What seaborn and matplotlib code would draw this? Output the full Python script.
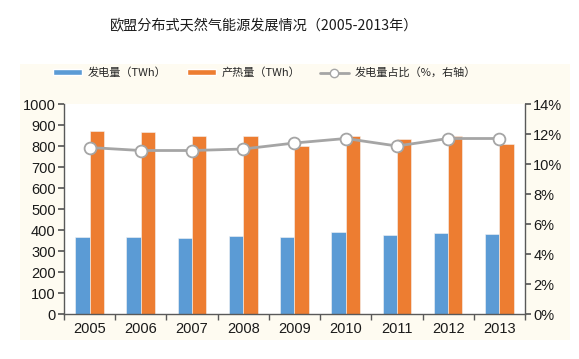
import matplotlib
matplotlib.use("Agg")
import matplotlib.pyplot as plt
import seaborn as sns
import pandas as pd
from matplotlib.patches import Rectangle
from matplotlib.lines import Line2D
from matplotlib.ticker import FuncFormatter, MultipleLocator

years = ["2005", "2006", "2007", "2008", "2009", "2010", "2011", "2012", "2013"]
power = [365, 365, 362, 370, 365, 390, 375, 385, 380]
heat = [870, 868, 850, 850, 798, 846, 832, 849, 811]
share = [11.1, 10.9, 10.9, 11.0, 11.4, 11.7, 11.2, 11.7, 11.7]
labels = ["发电量（TWh）", "产热量（TWh）", "发电量占比（%，右轴）"]
title = "欧盟分布式天然气能源发展情况（2005-2013年）"

sns.set_theme(style="white")
plt.rcParams['font.family'] = ['Liberation Sans', 'Noto Sans CJK SC', 'DejaVu Sans']
cjk = ['Noto Sans CJK SC', 'DejaVu Sans']

blue = "#5B9BD5"
orange = "#ED7D31"
gray = "#A5A5A5"
cream = "#FEFBF1"
axcol = "#595959"

df = pd.DataFrame({
    "year": years * 2,
    "value": power + heat,
    "series": [labels[0]] * len(years) + [labels[1]] * len(years),
})

fig = plt.figure(figsize=(5.79, 3.59), dpi=100)
fig.patch.set_facecolor("white")
bg = fig.add_axes([0.0345, 0.053, 0.95, 0.769], zorder=-10)
bg.set_facecolor(cream)
bg.set_xticks([])
bg.set_yticks([])
for s in bg.spines.values():
    s.set_visible(False)

ax = fig.add_axes([0.1105, 0.1253, 0.7962, 0.585])
ax.set_facecolor("white")
sns.barplot(data=df, x="year", y="value", hue="series", palette=[blue, orange],
            width=0.56, ax=ax, legend=False, saturation=1, linewidth=0.4,
            edgecolor="#f4f4f4")
ax.set_ylim(0, 1000)
ax.set_xlim(-0.5, len(years) - 0.5)
ax.yaxis.set_major_locator(MultipleLocator(100))
ax.set_xlabel("")
ax.set_ylabel("")

ax2 = ax.twinx()
ax2.plot(range(len(years)), share, color=gray, lw=2, marker="o", ms=8.5,
         mfc="white", mec=gray, mew=1.3, zorder=5)
ax2.set_ylim(0, 14)
ax2.yaxis.set_major_locator(MultipleLocator(2))
ax2.yaxis.set_major_formatter(FuncFormatter(lambda v, p: f"{v:.0f}%"))

for a in (ax, ax2):
    a.spines["top"].set_visible(False)
    for s in ("left", "right", "bottom"):
        a.spines[s].set_color(axcol)
        a.spines[s].set_linewidth(1)
ax.spines["right"].set_visible(False)
ax2.spines["left"].set_visible(False)
ax2.spines["bottom"].set_visible(False)

ax.set_xticks([i + 0.5 for i in range(-1, len(years))], minor=True)
ax.tick_params(axis="x", which="major", length=0, labelsize=10.5, colors="#1a1a1a", pad=6)
ax.tick_params(axis="x", which="minor", length=4, color=axcol, direction="out", bottom=True)
ax.tick_params(axis="y", length=4, color=axcol, direction="out", labelsize=10.5,
               labelcolor="#1a1a1a", left=True, pad=2)
ax2.tick_params(axis="y", length=4, color=axcol, direction="out", labelsize=10.5,
                labelcolor="#1a1a1a", right=True, pad=2)

handles = [
    Rectangle((0, 0), 1, 1, facecolor=blue),
    Rectangle((0, 0), 1, 1, facecolor=orange),
    Line2D([], [], color=gray, lw=2, marker="o", ms=6, mfc="white", mec=gray),
]
leg = fig.legend(handles, labels, loc="center", bbox_to_anchor=(0.457, 0.797), ncol=3,
                 frameon=False, prop={"family": cjk, "size": 8}, handlelength=2.6,
                 handleheight=0.5, columnspacing=1.8, handletextpad=0.5)

fig.text(0.456, 0.93, title, ha="center", va="center", fontsize=10.2, family=cjk,
         color="#1a1a1a", fontweight="light")

fig.savefig("out.png", dpi=100)
